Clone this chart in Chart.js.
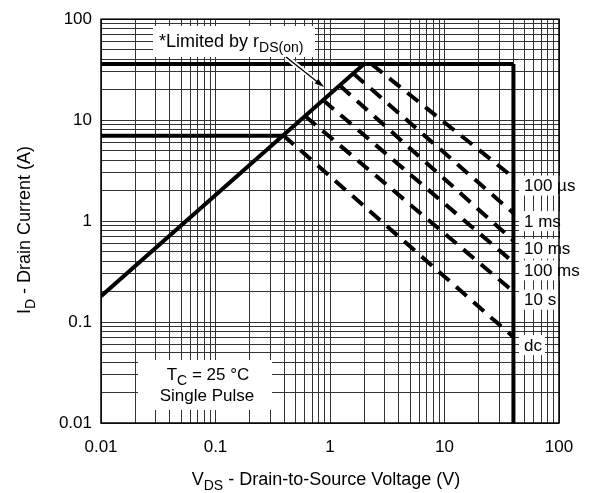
<!DOCTYPE html>
<html><head><meta charset="utf-8">
<script src="https://cdn.jsdelivr.net/npm/chart.js@4.4.1/dist/chart.umd.min.js"></script>
<style>body{margin:0;background:#fff}</style>
</head><body>
<canvas id="soa" width="601" height="493"></canvas>
<script>
// ===== Data =====
const xTicks = [0.01, 0.1, 1, 10, 100];
const xTickLabels = ['0.01', '0.1', '1', '10', '100'];
const yTicks = [0.01, 0.1, 1, 10, 100];
const yTickLabels = ['0.01', '0.1', '1', '10', '100'];

// limit lines (V, A)
const rdsonV = [0.01, 1.98], rdsonI = [0.18, 36];
const idmV = [0.01, 40],     idmI = [36, 36];
const idV = [0.01, 0.39],    idI = [7, 7];
const bvV = [40, 40],        bvI = [36, 0.01];

// pulse lines
const pulseLabels = ['100 µs', '1 ms', '10 ms', '100 ms', '10 s', 'dc'];
const pulseStartV = [2.3, 1.6, 1.22, 0.87, 0.605, 0.39];
const pulseStartI = [36, 29, 22, 15.8, 11, 7.1];
const pulseEndV = [40, 40, 40, 40, 40, 40];
const pulseEndI = [2.7, 1.2, 0.64, 0.39, 0.2, 0.071];

const FONT = '"Liberation Sans", Arial, sans-serif';
const FS = 17;

// ===== Helpers =====
function pts(xs, ys) { return xs.map((x, i) => ({ x, y: ys[i] })); }

function gridValues(lo, hi) {
  const out = [];
  for (let e = Math.log10(lo); e < Math.log10(hi); e++) {
    for (let m = 1; m < 10; m++) out.push(+(m * Math.pow(10, e)).toPrecision(3));
  }
  out.push(hi);
  return out;
}

// draws text made of parts, sub parts are smaller and lowered
function richText(ctx, parts, x, y, size, align) {
  const subSize = Math.round(size * 0.8);
  let w = 0;
  parts.forEach(p => {
    ctx.font = `${p.sub ? subSize : size}px ${FONT}`;
    w += ctx.measureText(p.t).width;
  });
  let cx = align === 'center' ? x - w / 2 : x;
  ctx.textAlign = 'left';
  ctx.textBaseline = 'alphabetic';
  parts.forEach(p => {
    ctx.font = `${p.sub ? subSize : size}px ${FONT}`;
    ctx.fillText(p.t, cx, p.sub ? y + size * 0.3 : y);
    cx += ctx.measureText(p.t).width;
  });
}

function whiteBox(ctx, x, y, w, h) {
  ctx.fillStyle = '#fff';
  ctx.fillRect(x, y, w, h);
  ctx.fillStyle = '#000';
}

// ===== Annotations plugin =====
const soaDecor = {
  id: 'soaDecor',
  beforeDatasetsDraw(chart) {
    const ctx = chart.ctx, ys = chart.scales.y;
    ctx.save();
    // rDS(on) note
    whiteBox(ctx, 153, 26, 162, 31);
    richText(ctx, [{ t: '*Limited by r' }, { t: 'DS(on)', sub: true }], 159, 47, 18, 'left');
    // Tc box
    whiteBox(ctx, 138, 360, 134, 50);
    richText(ctx, [{ t: 'T' }, { t: 'C', sub: true }, { t: ' = 25 °C' }], 208, 380, FS, 'center');
    richText(ctx, [{ t: 'Single Pulse' }], 207, 401, FS, 'center');
    // pulse labels
    pulseLabels.forEach((lab, i) => {
      const py = ys.getPixelForValue(pulseEndI[i]) + 8;
      ctx.font = `${FS}px ${FONT}`;
      const w = ctx.measureText(lab).width;
      whiteBox(ctx, 519, py - 10, w + 8, 20);
      ctx.textBaseline = 'middle';
      ctx.textAlign = 'left';
      ctx.fillText(lab, 524, py + 1);
    });
    ctx.restore();
  },
  afterDatasetsDraw(chart) {
    const ctx = chart.ctx, a = chart.chartArea;
    ctx.save();
    // arrow to the rDS(on) line
    const x0 = 286, y0 = 57, x1 = 324, y1 = 87;
    ctx.lineCap = 'butt';
    ctx.strokeStyle = '#fff'; ctx.lineWidth = 5;
    ctx.beginPath(); ctx.moveTo(x0, y0); ctx.lineTo(x1 - 4, y1 - 3); ctx.stroke();
    ctx.strokeStyle = '#000'; ctx.lineWidth = 1.3;
    ctx.beginPath(); ctx.moveTo(x0, y0); ctx.lineTo(x1 - 4, y1 - 3); ctx.stroke();
    const ang = Math.atan2(y1 - y0, x1 - x0);
    ctx.fillStyle = '#000';
    ctx.beginPath();
    ctx.moveTo(x1, y1);
    ctx.lineTo(x1 - 10 * Math.cos(ang - 0.3), y1 - 10 * Math.sin(ang - 0.3));
    ctx.lineTo(x1 - 10 * Math.cos(ang + 0.3), y1 - 10 * Math.sin(ang + 0.3));
    ctx.closePath(); ctx.fill();
    // frame
    ctx.strokeStyle = '#000'; ctx.lineWidth = 1.5;
    ctx.strokeRect(a.left, a.top, a.right - a.left, a.bottom - a.top);
    // axis titles
    ctx.fillStyle = '#000';
    richText(ctx, [{ t: 'V' }, { t: 'DS', sub: true }, { t: ' - Drain-to-Source Voltage (V)' }], 326, 485, 18, 'center');
    ctx.translate(30, 230);
    ctx.rotate(-Math.PI / 2);
    richText(ctx, [{ t: 'I' }, { t: 'D', sub: true }, { t: ' - Drain Current (A)' }], 0, 0, 18, 'center');
    ctx.restore();
  }
};

// ===== Datasets =====
const solid = { borderColor: '#000', borderWidth: 4, pointRadius: 0, showLine: true, fill: false, borderCapStyle: 'butt' };
const datasets = [
  { ...solid, data: pts(rdsonV, rdsonI) },
  { ...solid, data: pts(idmV, idmI) },
  { ...solid, data: pts(idV, idI) },
  { ...solid, data: pts(bvV, bvI) },
];
pulseLabels.forEach((lab, i) => {
  datasets.push({
    ...solid, label: lab, borderDash: [14, 9],
    data: pts([pulseStartV[i], pulseEndV[i]], [pulseStartI[i], pulseEndI[i]])
  });
});

function logAxis(ticks, labels, isX) {
  return {
    type: 'logarithmic', min: ticks[0], max: ticks[ticks.length - 1],
    afterBuildTicks: s => { s.ticks = gridValues(ticks[0], ticks[ticks.length - 1]).map(v => ({ value: v })); },
    afterFit: s => { if (isX) s.height = 70; else s.width = 101; },
    grid: { color: '#333', lineWidth: 1, drawTicks: false },
    border: { display: false },
    ticks: {
      autoSkip: false, maxRotation: 0, padding: isX ? 14 : 9,
      color: '#000', font: { family: FONT, size: FS },
      callback: v => { const k = ticks.findIndex(t => Math.abs(t - v) / t < 1e-6); return k >= 0 ? labels[k] : ''; }
    }
  };
}

new Chart(document.getElementById('soa'), {
  type: 'scatter',
  data: { datasets },
  options: {
    responsive: false, animation: false, devicePixelRatio: 1,
    layout: { padding: { left: 0, top: 18, right: 42, bottom: 0 } },
    plugins: { legend: { display: false }, tooltip: { enabled: false } },
    scales: { x: logAxis(xTicks, xTickLabels, true), y: logAxis(yTicks, yTickLabels, false) }
  },
  plugins: [soaDecor]
});
</script>
</body></html>
